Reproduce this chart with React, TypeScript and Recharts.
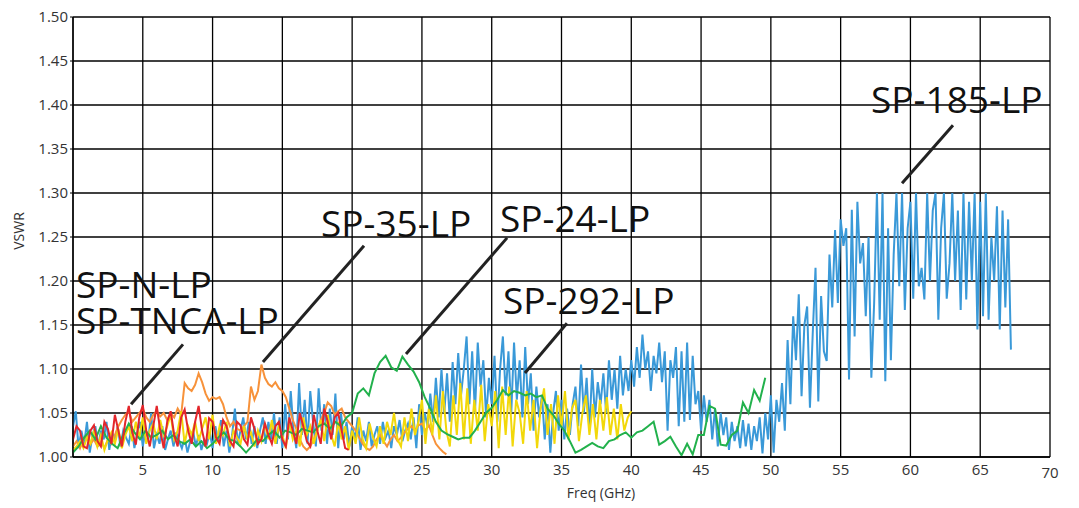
import React from 'react';
import {
  LineChart,
  Line,
  XAxis,
  YAxis,
  CartesianGrid,
  ReferenceLine,
  ReferenceDot,
  Label,
} from 'recharts';

// sweep steps (GHz) for each trace
const blueStep = 0.2;
const orangeStep = 0.25;
const yellowStep = 0.25;
const greenStep = 0.4;
const redStep = 0.25;

// SP-185-LP (blue), 0 - 67.2 GHz
const blueVswr = [
  1.035, 1.052, 1.01, 1.03, 1.015, 1.04, 1.005, 1.025, 1.035, 1.012,
  1.03, 1.02, 1.04, 1.008, 1.028, 1.018, 1.035, 1.012, 1.03, 1.022,
  1.015, 1.035, 1.01, 1.028, 1.04, 1.012, 1.03, 1.02, 1.05, 1.01,
  1.025, 1.015, 1.035, 1.008, 1.02, 1.03, 1.012, 1.028, 1.018, 1.01,
  1.022, 1.005, 1.018, 1.03, 1.012, 1.025, 1.008, 1.02, 1.015, 1.028,
  1.01, 1.035, 1.018, 1.042, 1.012, 1.03, 1.005, 1.025, 1.055, 1.015,
  1.03, 1.045, 1.02, 1.04, 1.015, 1.035, 1.01, 1.03, 1.045, 1.015,
  1.04, 1.02, 1.05, 1.015, 1.045, 1.01, 1.06, 1.02, 1.075, 1.03,
  1.01, 1.084, 1.025, 1.065, 1.015, 1.075, 1.04, 1.012, 1.078, 1.03,
  1.06, 1.015, 1.055, 1.025, 1.072, 1.01, 1.05, 1.02, 1.04, 1.012,
  1.035, 1.02, 1.045, 1.008, 1.03, 1.018, 1.04, 1.012, 1.025, 1.035,
  1.015, 1.04, 1.022, 1.03, 1.01, 1.035, 1.025, 1.042, 1.018, 1.03,
  1.038, 1.02, 1.045, 1.01, 1.06, 1.025, 1.05, 1.035, 1.072, 1.04,
  1.09, 1.045, 1.1, 1.05, 1.095, 1.04, 1.108, 1.06, 1.118, 1.07,
  1.1, 1.137, 1.06, 1.12, 1.05, 1.13, 1.08, 1.11, 1.045, 1.09,
  1.06, 1.115, 1.04, 1.1, 1.137, 1.07, 1.12, 1.05, 1.13, 1.065,
  1.11, 1.045, 1.125, 1.06, 1.095, 1.03, 1.08, 1.045, 1.07, 1.02,
  1.06, 1.005, 1.05, 1.075, 1.03, 1.065, 1.02, 1.055, 1.025, 1.06,
  1.08, 1.035, 1.105, 1.05, 1.09, 1.03, 1.1, 1.045, 1.085, 1.06,
  1.095, 1.05, 1.11, 1.065, 1.1, 1.055, 1.115, 1.07, 1.1, 1.075,
  1.11, 1.08, 1.125, 1.09, 1.139, 1.1, 1.12, 1.075, 1.115, 1.095,
  1.13, 1.085, 1.12, 1.03, 1.11, 1.09, 1.125, 1.035, 1.12, 1.04,
  1.13, 1.042, 1.115, 1.06, 1.075, 1.03, 1.07, 1.04, 1.065, 1.02,
  1.055, 1.012, 1.05, 1.025, 1.045, 1.008, 1.04, 1.018, 1.035, 1.01,
  1.042, 1.012, 1.038, 1.008, 1.035, 1.018, 1.045, 1.004, 1.05, 1.02,
  1.07, 1.005, 1.065, 1.04, 1.084, 1.03, 1.133, 1.06, 1.16, 1.11,
  1.185, 1.069, 1.15, 1.171, 1.056, 1.14, 1.215, 1.063, 1.183, 1.12,
  1.109, 1.23, 1.17, 1.258, 1.175, 1.27, 1.24, 1.26, 1.088, 1.281,
  1.137, 1.29, 1.22, 1.243, 1.16, 1.25, 1.09, 1.175, 1.3, 1.156,
  1.3, 1.086, 1.26, 1.11, 1.23, 1.3, 1.194, 1.3, 1.167, 1.26,
  1.29, 1.18, 1.3, 1.194, 1.215, 1.179, 1.3, 1.2, 1.28, 1.3,
  1.156, 1.26, 1.3, 1.18, 1.22, 1.3, 1.2, 1.28, 1.167, 1.3,
  1.179, 1.29, 1.2, 1.3, 1.145, 1.29, 1.16, 1.3, 1.156, 1.25,
  1.2, 1.285, 1.145, 1.28, 1.17, 1.27, 1.122,
];

// SP-35-LP (orange), 0 - 26.75 GHz
const orangeVswr = [
  1.012, 1.018, 1.01, 1.02,
  1.025, 1.015, 1.02, 1.012,
  1.018, 1.01, 1.02, 1.015,
  1.025, 1.035, 1.042, 1.048,
  1.052, 1.04, 1.045, 1.05,
  1.055, 1.045, 1.04, 1.048,
  1.052, 1.046, 1.05, 1.042,
  1.05, 1.045, 1.055, 1.048,
  1.084, 1.078, 1.075, 1.082,
  1.095, 1.085, 1.072, 1.064,
  1.068, 1.066, 1.068, 1.06,
  1.045, 1.035, 1.04, 1.032,
  1.03, 1.035, 1.04, 1.08,
  1.065, 1.075, 1.105, 1.09,
  1.083, 1.08, 1.085, 1.078,
  1.075, 1.068, 1.055, 1.042,
  1.032, 1.02, 1.012, 1.008,
  1.012, 1.02, 1.03, 1.042,
  1.05, 1.062, 1.058, 1.048,
  1.052, 1.055, 1.045, 1.04,
  1.035, 1.03, 1.022, 1.015,
  1.01, 1.008, 1.012, 1.02,
  1.025, 1.018, 1.012, 1.02,
  1.025, 1.018, 1.022, 1.028,
  1.032, 1.035, 1.03, 1.036,
  1.038, 1.03, 1.036, 1.025,
  1.015, 1.01, 1.006, 1.003,
];

// SP-292-LP (yellow), 0 - 40 GHz
const yellowVswr = [
  1.008, 1.012, 1.018, 1.01,
  1.022, 1.015, 1.03, 1.012,
  1.025, 1.008, 1.02, 1.028,
  1.015, 1.032, 1.01, 1.025,
  1.035, 1.018, 1.04, 1.022,
  1.045, 1.015, 1.03, 1.038,
  1.02, 1.042, 1.025, 1.035,
  1.048, 1.02, 1.03, 1.052,
  1.015, 1.035, 1.025, 1.04,
  1.018, 1.032, 1.045, 1.02,
  1.048, 1.015, 1.035, 1.025,
  1.04, 1.012, 1.03, 1.022,
  1.015, 1.035, 1.02, 1.028,
  1.012, 1.03, 1.018, 1.038,
  1.02, 1.042, 1.015, 1.035,
  1.025, 1.01, 1.04, 1.02,
  1.03, 1.012, 1.045, 1.025,
  1.035, 1.015, 1.03, 1.042,
  1.018, 1.048, 1.025, 1.012,
  1.04, 1.02, 1.035, 1.008,
  1.03, 1.015, 1.045, 1.02,
  1.01, 1.038, 1.022, 1.012,
  1.035, 1.015, 1.04, 1.025,
  1.05, 1.02, 1.012, 1.045,
  1.018, 1.055, 1.025, 1.04,
  1.065, 1.015, 1.055, 1.025,
  1.07, 1.02, 1.075, 1.03,
  1.012, 1.07, 1.025, 1.084,
  1.02, 1.078, 1.015, 1.065,
  1.03, 1.082, 1.018, 1.06,
  1.035, 1.075, 1.01, 1.08,
  1.025, 1.08, 1.012, 1.065,
  1.05, 1.015, 1.075, 1.03,
  1.065, 1.01, 1.055, 1.078,
  1.025, 1.06, 1.015, 1.07,
  1.035, 1.075, 1.02, 1.055,
  1.065, 1.018, 1.05, 1.07,
  1.025, 1.06, 1.02, 1.065,
  1.03, 1.068, 1.025, 1.055,
  1.02, 1.06, 1.03, 1.045,
  1.052,
];

// SP-24-LP (green), 0 - 49.6 GHz
const greenVswr = [
  1.005, 1.012, 1.022, 1.03, 1.02,
  1.035, 1.022, 1.015, 1.01, 1.025,
  1.038, 1.028, 1.02, 1.03, 1.022,
  1.025, 1.03, 1.02, 1.025, 1.018,
  1.015, 1.02, 1.012, 1.018, 1.01,
  1.015, 1.022, 1.028, 1.02, 1.018,
  1.012, 1.005, 1.012, 1.02, 1.018,
  1.025, 1.03, 1.022, 1.03, 1.028,
  1.025, 1.032, 1.03, 1.028, 1.035,
  1.038, 1.032, 1.04, 1.035, 1.045,
  1.05, 1.072, 1.078, 1.07, 1.095,
  1.108, 1.115, 1.102, 1.098, 1.114,
  1.105, 1.097, 1.085, 1.068, 1.055,
  1.04, 1.03, 1.026, 1.023, 1.02,
  1.022, 1.022, 1.03, 1.04, 1.05,
  1.056, 1.065, 1.076, 1.07, 1.075,
  1.073, 1.07, 1.072, 1.068, 1.07,
  1.055, 1.048, 1.038, 1.03, 1.018,
  1.005, 1.008, 1.012, 1.016, 1.012,
  1.01, 1.018, 1.02, 1.025, 1.028,
  1.022, 1.028, 1.03, 1.035, 1.04,
  1.014, 1.018, 1.023, 1.012, 1.002,
  1.015, 1.003, 1.025, 1.025, 1.058,
  1.055, 1.014, 1.013, 1.025, 1.03,
  1.062, 1.05, 1.076, 1.064, 1.09,
];

// SP-N-LP / SP-TNCA-LP (red), 0 - 19.75 GHz
const redVswr = [
  1.02, 1.035, 1.03, 1.012, 1.01, 1.03, 1.036, 1.018,
  1.012, 1.04, 1.032, 1.015, 1.048, 1.03, 1.012, 1.04,
  1.058, 1.028, 1.014, 1.045, 1.059, 1.03, 1.012, 1.035,
  1.058, 1.03, 1.01, 1.04, 1.052, 1.025, 1.012, 1.045,
  1.054, 1.03, 1.015, 1.04, 1.058, 1.03, 1.012, 1.044,
  1.04, 1.022, 1.015, 1.042, 1.035, 1.018, 1.012, 1.04,
  1.036, 1.02, 1.014, 1.045, 1.032, 1.015, 1.02, 1.038,
  1.025, 1.015, 1.035, 1.04, 1.02, 1.012, 1.045, 1.03,
  1.015, 1.05, 1.035, 1.018, 1.012, 1.048, 1.03, 1.015,
  1.055, 1.04, 1.02, 1.045, 1.05, 1.03, 1.01, 1.008,
];

const xTicks = [5, 10, 15, 20, 25, 30, 35, 40, 45, 50, 55, 60, 65, 70];
const yTicks = [1.0, 1.05, 1.1, 1.15, 1.2, 1.25, 1.3, 1.35, 1.4, 1.45, 1.5];

// callouts: text lines anchored at (f, vswr) and optional leader line
const callouts = [
  { lines: ['SP-185-LP'], f: 57.18, v: 1.391, from: [63.05, 1.377], to: [59.4, 1.311] },
  { lines: ['SP-35-LP'], f: 17.77, v: 1.25, from: [20.85, 1.24], to: [13.61, 1.108] },
  { lines: ['SP-24-LP'], f: 30.59, v: 1.2557, from: [31.1, 1.249], to: [23.86, 1.117] },
  { lines: ['SP-N-LP', 'SP-TNCA-LP'], f: 0.215, v: 1.1807, from: [7.88, 1.128], to: [4.16, 1.06] },
  { lines: ['SP-292-LP'], f: 30.81, v: 1.1625, from: [35.39, 1.152], to: [32.38, 1.0955] },
];

const toPoints = (vals: number[], step: number) =>
  vals.map((v, i) => ({ f: Math.round(i * step * 100) / 100, v }));

const series = [
  { name: 'SP-185-LP', color: '#3a99d8', pts: toPoints(blueVswr, blueStep) },
  { name: 'SP-35-LP', color: '#f7923a', pts: toPoints(orangeVswr, orangeStep) },
  { name: 'SP-292-LP', color: '#f2d80a', pts: toPoints(yellowVswr, yellowStep) },
  { name: 'SP-24-LP', color: '#22b14c', pts: toPoints(greenVswr, greenStep) },
  { name: 'SP-N-LP', color: '#e3262b', pts: toPoints(redVswr, redStep) },
];

const font = '"Open Sans", "DejaVu Sans", sans-serif';
const tickColor = '#333';

const XTick = (props: any) => {
  const { x, y, payload } = props;
  const last = payload.value === 70;
  return (
    <text x={x} y={y + (last ? 3 : 0)} dy="0.71em" textAnchor="middle"
      fontFamily={font} fontSize={15} fill={tickColor}>
      {payload.value}
    </text>
  );
};

export default function App() {
  return (
    <div style={{ position: 'absolute', left: 0, top: 0, background: '#fff' }}>
      <LineChart width={1079} height={508} margin={{ top: 17, right: 29, bottom: 0, left: 0 }}>
        <CartesianGrid stroke="#000" strokeWidth={1.3} />
        <XAxis
          dataKey="f"
          type="number"
          domain={[0, 70]}
          ticks={xTicks}
          height={51}
          tickSize={0}
          tickMargin={7}
          tick={<XTick />}
          axisLine={{ stroke: '#000', strokeWidth: 1.3 }}
          allowDataOverflow
        >
          <Label
            content={() => (
              <text x={601} y={498} textAnchor="middle" fontFamily={font} fontSize={14} fill={tickColor}>
                Freq (GHz)
              </text>
            )}
          />
        </XAxis>
        <YAxis
          type="number"
          domain={[1, 1.5]}
          ticks={yTicks}
          width={73}
          tickSize={3}
          tickMargin={2}
          tickFormatter={(v: number) => v.toFixed(2)}
          tick={{ fontFamily: font, fontSize: 15, fill: tickColor }}
          tickLine={{ stroke: '#000' }}
          axisLine={{ stroke: '#000', strokeWidth: 1.3 }}
          allowDataOverflow
        >
          <Label
            content={() => (
              <text x={24} y={231} transform="rotate(-90, 24, 231)" textAnchor="middle"
                fontFamily={font} fontSize={14} fill={tickColor}>
                VSWR
              </text>
            )}
          />
        </YAxis>
        {series.map((s) => (
          <Line
            key={s.name}
            data={s.pts}
            dataKey="v"
            name={s.name}
            type="linear"
            stroke={s.color}
            strokeWidth={2}
            dot={false}
            activeDot={false}
            isAnimationActive={false}
          />
        ))}
        {callouts.map((c) => (
          <ReferenceLine
            key={c.lines[0] + '-line'}
            segment={[
              { x: c.from[0], y: c.from[1] },
              { x: c.to[0], y: c.to[1] },
            ]}
            stroke="#222"
            strokeWidth={3}
          />
        ))}
        {callouts.map((c) => (
          <ReferenceDot
            key={c.lines[0]}
            x={c.f}
            y={c.v}
            r={0}
            shape={(p: any) => (
              <text x={p.cx} y={p.cy} fontFamily={font} fontSize={37} fill="#111">
                {c.lines.map((line, i) => (
                  <tspan key={line} x={p.cx} dy={i === 0 ? 0 : 36}>
                    {line}
                  </tspan>
                ))}
              </text>
            )}
          />
        ))}
      </LineChart>
    </div>
  );
}
